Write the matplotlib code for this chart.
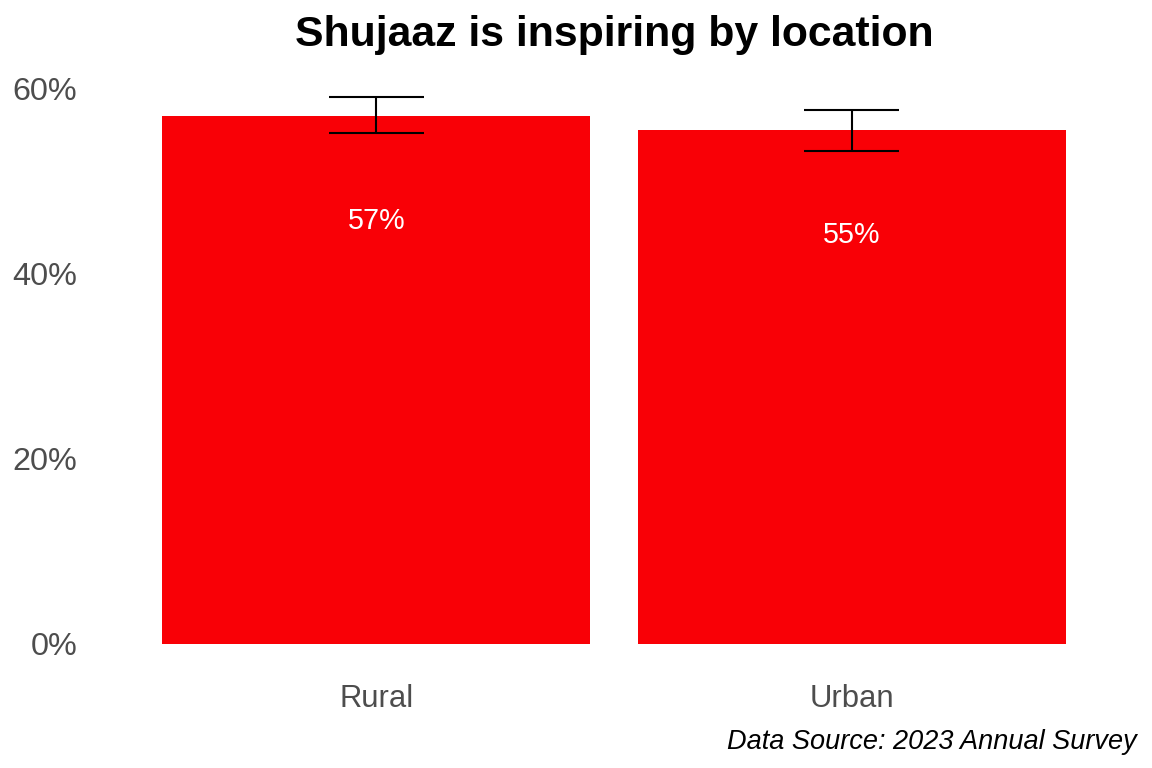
import numpy as np
import matplotlib
matplotlib.use("Agg")
import matplotlib.pyplot as plt
from matplotlib.ticker import PercentFormatter

locations = ["Rural", "Urban"]
share = [0.571, 0.556]
ci_low = [0.552, 0.533]
ci_high = [0.591, 0.577]
labels = ["57%", "55%"]

plt.rcParams["font.family"] = ["Liberation Sans", "DejaVu Sans"]

fig = plt.figure(figsize=(11.52, 7.68), dpi=100)
ax = fig.add_axes([0.079, 0.1263, 0.908, 0.7827])

x = np.arange(len(locations))
ax.bar(x, share, width=0.9, color="#F90006", zorder=1)

# error bars in data units, cap width 0.2
ax.vlines(x, ci_low, ci_high, color="black", linewidth=1.5, zorder=3)
ax.hlines(ci_low, x - 0.1, x + 0.1, color="black", linewidth=1.5, zorder=3)
ax.hlines(ci_high, x - 0.1, x + 0.1, color="black", linewidth=1.5, zorder=3)

for xi, v, lab in zip(x, share, labels):
    ax.text(xi, v - 0.114, lab, ha="center", va="center", color="white", fontsize=20.7)

top = max(ci_high)
ax.set_xlim(-0.6, len(locations) - 0.4)
ax.set_ylim(-0.05 * top, top * 1.05)
ax.set_yticks([0, 0.2, 0.4, 0.6])
ax.yaxis.set_major_formatter(PercentFormatter(1.0, decimals=0))
ax.set_xticks(x)
ax.set_xticklabels(locations)
ax.tick_params(axis="both", length=0, labelcolor="#4D4D4D")
ax.tick_params(axis="x", pad=9, labelsize=22.3)
ax.tick_params(axis="y", pad=10, labelsize=23.3)
for s in ax.spines.values():
    s.set_visible(False)

ax.set_title("Shujaaz is inspiring by location", fontsize=30.8, fontweight="bold", pad=17)
fig.text(0.987, 0.034, "Data Source: 2023 Annual Survey", ha="right", va="center",
         fontsize=19.5, style="italic")

fig.savefig("out.png", dpi=100)
